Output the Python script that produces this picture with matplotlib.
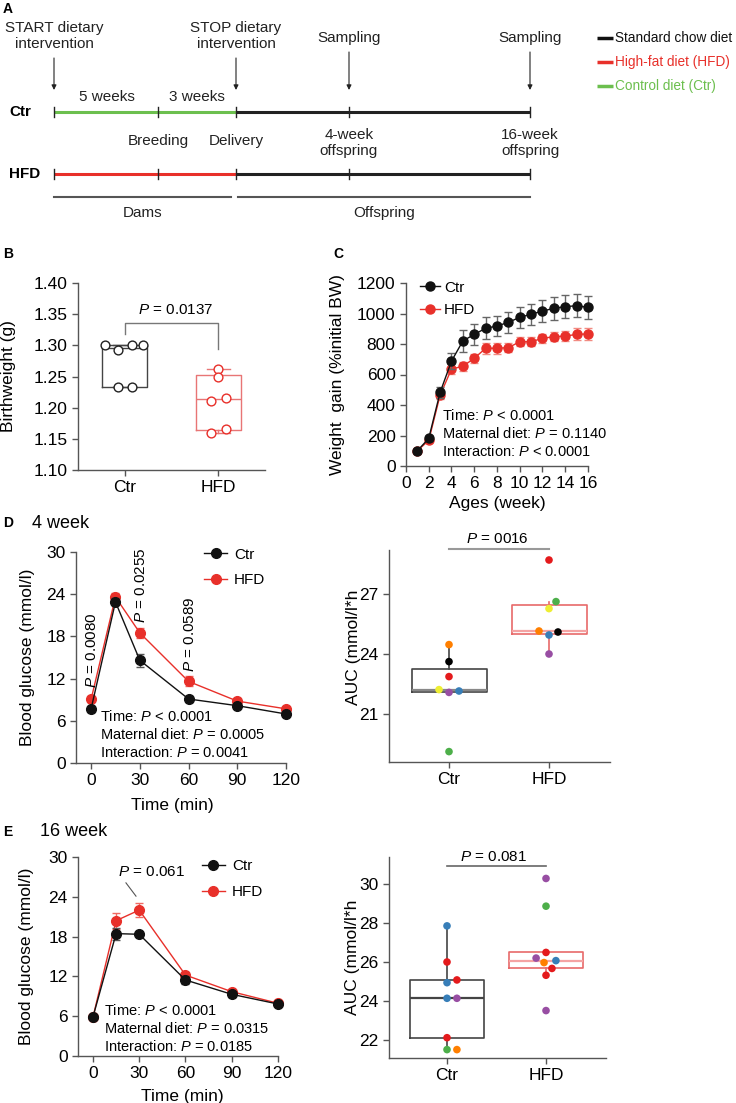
import numpy as np
import matplotlib
matplotlib.use('Agg')
import matplotlib.pyplot as plt
from matplotlib.lines import Line2D

plt.rcParams['font.family'] = ['Liberation Sans', 'DejaVu Sans']
plt.rcParams['mathtext.fontset'] = 'custom'
plt.rcParams['mathtext.rm'] = 'Liberation Sans'
plt.rcParams['mathtext.it'] = 'Liberation Sans:italic'

# ---------------- data ----------------
# Panel A (schematic)
timeline_groups = ['Ctr', 'HFD']
top_events = ['START dietary\nintervention', 'STOP dietary\nintervention', 'Sampling', 'Sampling']
phase_labels = ['5 weeks', '3 weeks']
bottom_events = ['Breeding', 'Delivery', '4-week\noffspring', '16-week\noffspring']
period_labels = ['Dams', 'Offspring']
diet_legend = ['Standard chow diet', 'High-fat diet (HFD)', 'Control diet (Ctr)']

# Panel B: birthweight (g)
groups = ['Ctr', 'HFD']
birthweight_ctr = [1.300, 1.292, 1.300, 1.300, 1.233, 1.233]
birthweight_hfd = [1.262, 1.250, 1.211, 1.216, 1.160, 1.166]
bw_p_text = '$P$ = 0.0137'

# Panel C: weight gain (% initial BW)
weeks = [1, 2, 3, 4, 5, 6, 7, 8, 9, 10, 11, 12, 13, 14, 15, 16]
gain_ctr = [100, 181, 483, 688, 820, 863, 903, 918, 942, 975, 995, 1016, 1034, 1045, 1051, 1040]
gain_ctr_sem = [10, 15, 35, 50, 72, 70, 72, 68, 67, 68, 70, 71, 74, 75, 76, 76]
gain_hfd = [100, 168, 465, 636, 654, 706, 772, 772, 776, 815, 815, 837, 848, 852, 863, 866]
gain_hfd_sem = [8, 12, 25, 33, 30, 30, 35, 35, 30, 30, 30, 30, 30, 35, 40, 40]
stats_c = ['Time: $P$ < 0.0001', 'Maternal diet: $P$ = 0.1140', 'Interaction: $P$ < 0.0001']

# Panel D: 4-week GTT
times = [0, 15, 30, 60, 90, 120]
gtt4_ctr = [7.7, 22.9, 14.6, 9.1, 8.15, 6.97]
gtt4_ctr_sem = [0.4, 0.5, 0.9, 0.4, 0.3, 0.3]
gtt4_hfd = [9.06, 23.6, 18.5, 11.6, 8.8, 7.7]
gtt4_hfd_sem = [0.4, 0.5, 0.7, 0.7, 0.4, 0.3]
gtt4_p_times = [0, 30, 60]
gtt4_p_labels = ['$P$ = 0.0080', '$P$ = 0.0255', '$P$ = 0.0589']
stats_d = ['Time: $P$ < 0.0001', 'Maternal diet: $P$ = 0.0005', 'Interaction: $P$ = 0.0041']

auc4_ctr = [24.47, 23.62, 22.87, 22.22, 22.08, 22.15, 19.12]
auc4_hfd = [28.70, 26.62, 26.27, 25.15, 25.10, 24.95, 24.00]
auc4_p_text = '$P$ = 0016'

# Panel E: 16-week GTT
gtt16_ctr = [5.88, 18.45, 18.35, 11.46, 9.3, 7.84]
gtt16_ctr_sem = [0.3, 0.9, 0.3, 0.6, 0.4, 0.3]
gtt16_hfd = [5.85, 20.4, 22.0, 12.2, 9.7, 7.95]
gtt16_hfd_sem = [0.3, 1.2, 1.1, 0.4, 0.3, 0.3]
gtt16_p_label = '$P$ = 0.061'
stats_e = ['Time: $P$ < 0.0001', 'Maternal diet: $P$ = 0.0315', 'Interaction: $P$ = 0.0185']

auc16_ctr = [27.87, 26.02, 24.96, 25.10, 24.16, 24.16, 22.14, 21.53, 21.53]
auc16_hfd = [30.30, 28.88, 26.51, 26.22, 26.09, 25.99, 25.69, 25.34, 23.53]
auc16_p_text = '$P$ = 0.081'

# per-sample styling (jitter offsets and colours)
bw_jit_ctr = [-0.21, -0.075, 0.075, 0.2, -0.075, 0.075]
bw_jit_hfd = [0.0, 0.0, -0.075, 0.08, -0.075, 0.08]
S1 = dict(red='#E41A1C', blue='#377EB8', green='#4DAF4A', purple='#984EA3',
          orange='#FF7F00', yellow='#EEEE33', black='#000000')
auc4_ctr_col = ['orange', 'black', 'red', 'yellow', 'purple', 'blue', 'green']
auc4_ctr_jit = [0, 0, 0, -0.1, 0, 0.1, 0]
auc4_hfd_col = ['red', 'green', 'yellow', 'orange', 'black', 'blue', 'purple']
auc4_hfd_jit = [0, 0.07, 0, -0.1, 0.09, 0, 0]
auc16_ctr_col = ['blue', 'red', 'blue', 'red', 'blue', 'purple', 'red', 'green', 'orange']
auc16_ctr_jit = [0, 0, 0, 0.1, 0, 0.1, 0, 0, 0.1]
auc16_hfd_col = ['purple', 'green', 'red', 'purple', 'blue', 'orange', 'red', 'red', 'purple']
auc16_hfd_jit = [0, 0, 0, -0.1, 0.1, -0.02, 0.06, 0, 0]

# ---------------- figure ----------------
W, H = 736, 1103
fig = plt.figure(figsize=(W / 100, H / 100), dpi=100)

def ax_px(l, t, r, b):
    return fig.add_axes([l / W, 1 - b / H, (r - l) / W, (b - t) / H])

def fig_text(x, y, s, **kw):
    fig.text(x / W, 1 - y / H, s, **kw)

BLACK = '#1a1a1a'
RED = '#e8302a'
GREEN = '#6cbf4e'
SPINE = '#555555'
FS = 12.5
FS_S = 10.5

def style(ax, fs=FS):
    for s in ['top', 'right']:
        ax.spines[s].set_visible(False)
    for s in ['left', 'bottom']:
        ax.spines[s].set_color(SPINE)
        ax.spines[s].set_linewidth(1.0)
    ax.tick_params(colors=SPINE, labelcolor='black', labelsize=fs, length=4, width=1)

# ---- Panel A ----
axA = ax_px(0, 0, W, 230)
axA.set_xlim(0, W)
axA.set_ylim(230, 0)
axA.axis('off')
fs_a = 11
nodes = [54, 158, 236, 349, 530]
row_y = [112, 174]
first_cols = [GREEN, RED]
for g, y, c in zip(timeline_groups, row_y, first_cols):
    axA.text(9, y, g, fontsize=11, fontweight='bold', va='center', ha='left')
    axA.plot([nodes[0], nodes[2]], [y, y], color=c, lw=2.2, solid_capstyle='butt')
    axA.plot([nodes[2], nodes[4]], [y, y], color='#222222', lw=2.2, solid_capstyle='butt')
    for x in nodes:
        axA.plot([x, x], [y - 5, y + 5], color='#222222', lw=1)
ev_x = [54, 236, 349, 530]
ev_y = [36, 36, 38, 38]
ev_top = [58, 58, 52, 52]
for s, x, y, t in zip(top_events, ev_x, ev_y, ev_top):
    axA.text(x, y, s, fontsize=fs_a, ha='center', va='center', linespacing=1.15, color='#222')
    axA.annotate('', xy=(x, 90), xytext=(x, t),
                 arrowprops=dict(arrowstyle='-|>', color='#222', lw=0.8, mutation_scale=7,
                                 shrinkA=0, shrinkB=0))
for s, x in zip(phase_labels, [107, 197]):
    axA.text(x, 97, s, fontsize=fs_a, ha='center', va='center', color='#222')
for s, x, y in zip(bottom_events, [158, 236, 349, 530], [141, 141, 143, 143]):
    axA.text(x, y, s, fontsize=fs_a, ha='center', va='center', linespacing=1.15, color='#222')
for s, (x0, x1) in zip(period_labels, [(54, 231), (238, 530)]):
    axA.plot([x0, x1], [197, 197], color='#555', lw=1.5)
    axA.text((x0 + x1) / 2, 213, s, fontsize=fs_a, ha='center', va='center', color='#222')
for s, y, c in zip(diet_legend, [38, 62, 86], ['#111', RED, GREEN]):
    axA.plot([597, 613], [y, y], color=c, lw=2.5, solid_capstyle='butt')
    axA.text(615, y, s, fontsize=9.8, ha='left', va='center', color=c)

# panel letters
for s, x, y in [('A', 3, 9), ('B', 3, 254), ('C', 333, 254), ('D', 3, 523), ('E', 3, 832)]:
    fig_text(x, y, s, fontsize=10, fontweight='bold', va='center', ha='left')
fig_text(32, 523, '4 week', fontsize=13, va='center', ha='left')
fig_text(40, 832, '16 week', fontsize=13, va='center', ha='left')

# ---- Panel B ----
def weibull_stats(vals):
    v = np.asarray(vals, dtype=float)
    q1, med, q3 = np.percentile(v, [25, 50, 75], method='weibull')
    return dict(med=med, q1=q1, q3=q3, whislo=v.min(), whishi=v.max(), fliers=[])

axB = ax_px(78, 283, 265, 470)
style(axB)
for vals, jit, p, ec, pc in [(birthweight_ctr, bw_jit_ctr, 1, '#444444', '#222222'),
                             (birthweight_hfd, bw_jit_hfd, 2, '#e87575', '#e8302a')]:
    st = weibull_stats(vals)
    axB.bxp([st], positions=[p], widths=0.48, showfliers=False, capwidths=0.25,
            boxprops=dict(color=ec, lw=1), medianprops=dict(color=ec, lw=1),
            whiskerprops=dict(color=ec, lw=1), capprops=dict(color=ec, lw=1))
    axB.scatter(p + np.asarray(jit), vals, s=40, facecolor='white', edgecolor=pc,
                lw=1, zorder=3, clip_on=False)
axB.set_xlim(0.5, 2.5)
axB.set_ylim(1.10, 1.40)
axB.set_yticks(np.arange(1.10, 1.401, 0.05))
axB.set_yticklabels([f'{v:.2f}' for v in np.arange(1.10, 1.401, 0.05)])
axB.set_xticks([1, 2])
axB.set_xticklabels(groups)
axB.set_ylabel('Birthweight (g)', fontsize=FS)
axB.yaxis.set_label_coords(-0.33, 0.5)
axB.plot([1, 1, 2, 2], [1.318, 1.336, 1.336, 1.294], color='#777', lw=1, clip_on=False)
axB.text(1.54, 1.356, bw_p_text, fontsize=11, ha='center', va='center')

# ---- Panel C ----
axC = ax_px(406, 283, 588, 466)
style(axC)
axC.errorbar(weeks, gain_hfd, yerr=gain_hfd_sem, color=RED, ecolor='#f28b82', marker='o',
             ms=6.5, lw=1, capsize=3, elinewidth=1, capthick=1, zorder=2, clip_on=False)
axC.errorbar(weeks, gain_ctr, yerr=gain_ctr_sem, color='#111', ecolor='#666', marker='o',
             ms=6.5, lw=1, capsize=3, elinewidth=1, capthick=1, zorder=3, clip_on=False)
axC.set_xlim(0, 16)
axC.set_ylim(0, 1200)
axC.set_xticks(range(0, 17, 2))
axC.set_yticks(range(0, 1201, 200))
axC.set_xlabel('Ages (week)', fontsize=FS)
axC.xaxis.set_label_coords(0.5, -0.163)
axC.set_ylabel('Weight  gain (%initial BW)', fontsize=FS)
axC.yaxis.set_label_coords(-0.335, 0.5)
axC.text(3.15, 216, '\n'.join(stats_c), fontsize=FS_S, ha='left', va='center', linespacing=1.25)
hC = [Line2D([], [], color='#111', marker='o', ms=6.5, lw=1),
      Line2D([], [], color=RED, marker='o', ms=6.5, lw=1)]
axC.legend(hC, groups, loc='upper left', bbox_to_anchor=(0.075, 1.012), frameon=False,
           fontsize=11, handlelength=1.3, handletextpad=0.3, labelspacing=0.55,
           borderpad=0, borderaxespad=0)

# ---- GTT helper ----
def gtt(ax, ctr, ctr_sem, hfd, hfd_sem, xmin):
    style(ax)
    ax.errorbar(times, hfd, yerr=hfd_sem, color=RED, ecolor='#f06a62', marker='o', ms=7,
                lw=1, capsize=3, elinewidth=1, capthick=1, zorder=2, clip_on=False)
    ax.errorbar(times, ctr, yerr=ctr_sem, color='#111', ecolor='#555', marker='o', ms=7,
                lw=1, capsize=3, elinewidth=1, capthick=1, zorder=3, clip_on=False)
    ax.set_xlim(xmin, 120)
    ax.set_ylim(0, 30)
    ax.set_xticks([0, 30, 60, 90, 120])
    ax.set_yticks(range(0, 31, 6))
    ax.set_xlabel('Time (min)', fontsize=FS)
    ax.set_ylabel('Blood glucose (mmol/l)', fontsize=FS)
    h = [Line2D([], [], color='#111', marker='o', ms=7, lw=1),
         Line2D([], [], color=RED, marker='o', ms=7, lw=1)]
    return h

axD = ax_px(76, 552, 286, 763)
hD = gtt(axD, gtt4_ctr, gtt4_ctr_sem, gtt4_hfd, gtt4_hfd_sem, -9.3)
axD.xaxis.set_label_coords(0.46, -0.166)
axD.yaxis.set_label_coords(-0.197, 0.5)
for t, s in zip(gtt4_p_times, gtt4_p_labels):
    y = {0: 16.0, 30: 25.3, 60: 18.3}[t]
    axD.text(t + 0.7, y, s, rotation=90, fontsize=11, ha='center', va='center')
axD.text(5.5, 4.0, '\n'.join(stats_d), fontsize=FS_S, ha='left', va='center', linespacing=1.25)
axD.legend(hD, groups, loc='upper left', bbox_to_anchor=(0.61, 1.02), frameon=False,
           fontsize=11, handlelength=1.5, handletextpad=0.45, labelspacing=0.75,
           borderpad=0, borderaxespad=0)

axE = ax_px(78, 857, 278, 1056)
hE = gtt(axE, gtt16_ctr, gtt16_ctr_sem, gtt16_hfd, gtt16_hfd_sem, -9.7)
axE.xaxis.set_label_coords(0.52, -0.166)
axE.yaxis.set_label_coords(-0.218, 0.5)
axE.text(38, 27.7, gtt16_p_label, fontsize=11, ha='center', va='center')
axE.plot([21.4, 27.9], [26.1, 24.1], color='#555', lw=0.8)
axE.text(7.1, 4.2, '\n'.join(stats_e), fontsize=FS_S, ha='left', va='center', linespacing=1.25)
axE.legend(hE, groups, loc='upper left', bbox_to_anchor=(0.62, 0.99), frameon=False,
           fontsize=11, handlelength=1.5, handletextpad=0.45, labelspacing=0.8,
           borderpad=0, borderaxespad=0)

# ---- AUC helper ----
def auc(ax, ctr, ctr_col, ctr_jit, hfd, hfd_col, hfd_jit, ctr_med):
    style(ax)
    for vals, cols, jit, p, ec, mc in [(ctr, ctr_col, ctr_jit, 1, '#444444', ctr_med),
                                        (hfd, hfd_col, hfd_jit, 2, '#e86a6a', '#f4a3a3')]:
        ax.boxplot([vals], positions=[p], widths=0.75, whis=1.5, showfliers=False,
                   showcaps=False,
                   boxprops=dict(color=ec, lw=1.2), medianprops=dict(color=mc, lw=1.6),
                   whiskerprops=dict(color=ec, lw=1.2))
        ax.scatter(p + np.asarray(jit), vals, s=30, c=[S1[k] for k in cols],
                   zorder=3, lw=0)
    ax.set_xticks([1, 2])
    ax.set_xticklabels(groups)
    ax.set_ylabel('AUC (mmol/l*h', fontsize=FS)

axD2 = ax_px(389, 550, 610, 762)
auc(axD2, auc4_ctr, auc4_ctr_col, auc4_ctr_jit, auc4_hfd, auc4_hfd_col, auc4_hfd_jit, '#888888')
axD2.set_xlim(0.4, 2.61)
axD2.set_ylim(18.6, 29.2)
axD2.set_yticks([21, 24, 27])
axD2.yaxis.set_label_coords(-0.128, 0.54)
axD2.plot([1, 2], [29.25, 29.25], color='#999', lw=1.5, clip_on=False)
axD2.text(1.48, 29.75, auc4_p_text, fontsize=11, ha='center', va='center')

axE2 = ax_px(389, 857, 606, 1058)
auc(axE2, auc16_ctr, auc16_ctr_col, auc16_ctr_jit, auc16_hfd, auc16_hfd_col, auc16_hfd_jit, '#444444')
axE2.set_xlim(0.414, 2.606)
axE2.set_ylim(21.1, 31.4)
axE2.set_yticks([22, 24, 26, 28, 30])
axE2.yaxis.set_label_coords(-0.133, 0.5)
axE2.plot([1, 2], [30.92, 30.92], color='#666', lw=1.2, clip_on=False)
axE2.text(1.47, 31.38, auc16_p_text, fontsize=11, ha='center', va='center')

fig.savefig('out.png', dpi=100)
